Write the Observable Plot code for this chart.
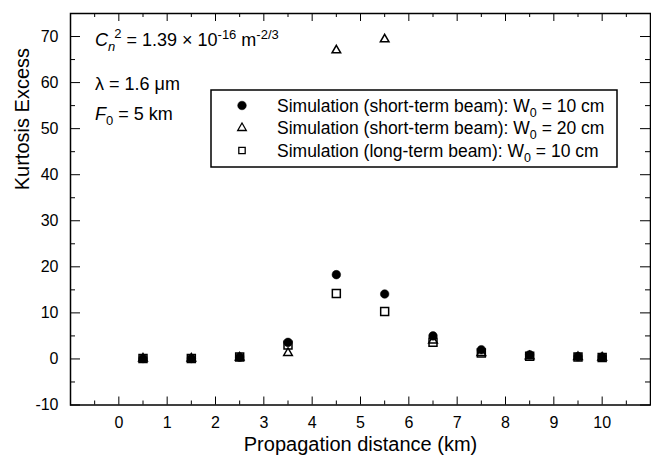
<!DOCTYPE html>
<html>
<head>
<meta charset="utf-8">
<script src="https://cdn.jsdelivr.net/npm/d3@7"></script>
<script src="https://cdn.jsdelivr.net/npm/@observablehq/plot@0.6"></script>
<style>
  html, body { margin: 0; padding: 0; background: white; }
  #chart { width: 651px; height: 463px; }
</style>
</head>
<body>
<div id="chart"></div>
<script>
// ---- data ----
const distanceKm   = [0.5, 1.5, 2.5, 3.5, 4.5, 5.5, 6.5, 7.5, 8.5, 9.5, 10];
const shortTermW10 = [0.1, 0.1, 0.4, 3.6, 18.3, 14.1, 5.0, 2.0, 0.9, 0.5, 0.4];
const shortTermW20 = [0.1, 0.1, 0.3, 1.3, 67.0, 69.4, 4.0, 1.3, 0.6, 0.4, 0.3];
const longTermW10  = [0.1, 0.1, 0.4, 3.0, 14.2, 10.3, 3.6, 1.3, 0.6, 0.4, 0.3];

const xTicks = [0, 1, 2, 3, 4, 5, 6, 7, 8, 9, 10];
const xMinorTicks = [-0.5, 0.5, 1.5, 2.5, 3.5, 4.5, 5.5, 6.5, 7.5, 8.5, 9.5, 10.5];
const yTicks = [-10, 0, 10, 20, 30, 40, 50, 60, 70];
const yMinorTicks = [-5, 5, 15, 25, 35, 45, 55, 65];

const xTitle = "Propagation distance (km)";
const yTitle = "Kurtosis Excess";
const legendLabels = [
  ["Simulation (short-term beam): W", "0", " = 10 cm"],
  ["Simulation (short-term beam): W", "0", " = 20 cm"],
  ["Simulation (long-term beam): W", "0", " = 10 cm"]
];
const legendSymbols = ["circle", "triangle", "square"];

// ---- layout ----
const W = 651, H = 463, mL = 70, mR = 1, mT = 13, mB = 58.5;
const plotW = W - mL - mR, plotH = H - mT - mB;
const FONT = "'Liberation Sans', Arial, Helvetica, sans-serif";

const rows = distanceKm.map((x, i) => ({x, s10: shortTermW10[i], s20: shortTermW20[i], l10: longTermW10[i]}));

const majX = 8, minX = 4, majY = 10, minY = 5;

const chart = Plot.plot({
  width: W, height: H,
  marginLeft: mL, marginRight: mR, marginTop: mT, marginBottom: mB,
  x: {domain: [-1, 11]},
  y: {domain: [-10, 75]},
  style: {fontFamily: FONT, fontSize: "16px", color: "black", background: "white", overflow: "visible"},
  marks: [
    // inward ticks, bottom & top
    Plot.tickX(xTicks, {x: d => d, insetTop: plotH - majX, stroke: "black"}),
    Plot.tickX(xMinorTicks, {x: d => d, insetTop: plotH - minX, stroke: "black"}),
    Plot.tickX(xTicks, {x: d => d, insetBottom: plotH - majX, stroke: "black"}),
    Plot.tickX(xMinorTicks, {x: d => d, insetBottom: plotH - minX, stroke: "black"}),
    // inward ticks, left & right
    Plot.tickY(yTicks, {y: d => d, insetRight: plotW - majY, stroke: "black"}),
    Plot.tickY(yMinorTicks, {y: d => d, insetRight: plotW - minY, stroke: "black"}),
    Plot.tickY(yTicks, {y: d => d, insetLeft: plotW - majY, stroke: "black"}),
    Plot.tickY(yMinorTicks, {y: d => d, insetLeft: plotW - minY, stroke: "black"}),
    Plot.axisX({ticks: xTicks, tickSize: 0, tickPadding: 12, label: null, tickFormat: d => String(d), fontSize: 16}),
    Plot.axisY({ticks: yTicks, tickSize: 0, tickPadding: 12, label: null, tickFormat: d => String(d), fontSize: 16}),
    // data
    Plot.dot(rows, {x: "x", y: "l10", symbol: "square", r: 4.5, fill: "white", stroke: "black", strokeWidth: 1.5}),
    Plot.dot(rows, {x: "x", y: "s20", symbol: "triangle", r: 3.2, fill: "white", stroke: "black", strokeWidth: 1.5}),
    Plot.dot(rows, {x: "x", y: "s10", symbol: "circle", r: 4.3, fill: "black", stroke: "black", strokeWidth: 0.5}),
    Plot.frame({stroke: "black", strokeWidth: 1.5}),
    Plot.text([xTitle], {text: d => d, frameAnchor: "bottom", dy: 45.5, fontSize: 20}),
    Plot.text([yTitle], {text: d => d, frameAnchor: "left", rotate: -90, dx: -48, dy: -19, fontSize: 20})
  ]
});
document.getElementById("chart").appendChild(chart);

// ---- in-plot annotation & legend (overlay on the Plot SVG) ----
const svg = d3.select(chart);

const ann = svg.append("g").attr("font-family", FONT).attr("font-size", 18)
  .attr("fill", "black").attr("text-anchor", "start");
const annX = mL + 25;
// line 1: Cn^2 = 1.39 × 10^-16 m^-2/3
const t1 = ann.append("text").attr("x", annX).attr("y", mT + 33);
t1.append("tspan").attr("font-style", "italic").text("C");
t1.append("tspan").attr("font-style", "italic").attr("font-size", 13).attr("dy", 5).text("n");
t1.append("tspan").attr("font-size", 13).attr("dy", -13).attr("dx", -1).text("2");
t1.append("tspan").attr("dy", 8).text(" = 1.39 \u00D7 10");
t1.append("tspan").attr("font-size", 13).attr("dy", -7).text("-16");
t1.append("tspan").attr("dy", 7).text(" m");
t1.append("tspan").attr("font-size", 13).attr("dy", -7).text("-2/3");
// line 2
ann.append("text").attr("x", annX).attr("y", mT + 77).text("\u03BB = 1.6 \u03BCm");
// line 3
const t3 = ann.append("text").attr("x", annX).attr("y", mT + 107);
t3.append("tspan").attr("font-style", "italic").text("F");
t3.append("tspan").attr("font-size", 13).attr("dy", 5).text("0");
t3.append("tspan").attr("dy", -5).text(" = 5 km");

// legend box
const lg = svg.append("g").attr("font-family", FONT).attr("font-size", 17.5)
  .attr("fill", "black").attr("text-anchor", "start");
const box = {x: 211, y: 90, w: 406, h: 77};
lg.append("rect").attr("x", box.x).attr("y", box.y).attr("width", box.w).attr("height", box.h)
  .attr("fill", "white").attr("stroke", "black").attr("stroke-width", 1.5);
const rowY = [105.5, 128, 150.5];
const symMap = {circle: d3.symbolCircle, triangle: d3.symbolTriangle, square: d3.symbolSquare};
const symR = {circle: 4.3, triangle: 3.2, square: 3.6};
legendSymbols.forEach((s, i) => {
  const r = symR[s];
  lg.append("path")
    .attr("transform", `translate(${box.x + 31},${rowY[i]})`)
    .attr("d", d3.symbol(symMap[s], r * r * Math.PI)())
    .attr("fill", s === "circle" ? "black" : "white")
    .attr("stroke", "black").attr("stroke-width", s === "circle" ? 0.5 : 1.3);
  const tx = lg.append("text").attr("x", box.x + 66).attr("y", rowY[i] + 6);
  tx.append("tspan").text(legendLabels[i][0]);
  tx.append("tspan").attr("font-size", 12.5).attr("dy", 5).text(legendLabels[i][1]);
  tx.append("tspan").attr("dy", -5).text(legendLabels[i][2]);
});
</script>
</body>
</html>
